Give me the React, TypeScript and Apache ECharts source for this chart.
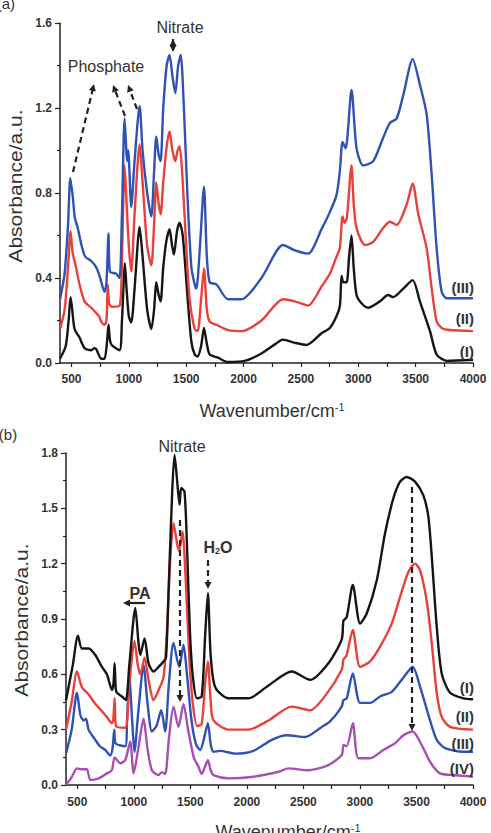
import React, { useEffect, useRef } from "react";
import * as echarts from "echarts";

// ---------- data (wavenumber cm-1, absorbance a.u.) ----------
const xLabelValues = [500, 1000, 1500, 2000, 2500, 3000, 3500, 4000];
const xTickValues = [500, 750, 1000, 1250, 1500, 1750, 2000, 2250, 2500, 2750, 3000, 3250, 3500, 3750, 4000];

const panelA_I: [number, number][] = [
  [400, 0.02], [450, 0.08], [475, 0.2], [492, 0.31], [505, 0.26], [527, 0.16], [570, 0.12], [614, 0.07], [672, 0.06], [700, 0.07], [716, 0.065], [760, 0.02], [788, 0.02], [810, 0.1], [823, 0.18], [835, 0.11], [850, 0.085], [919, 0.06], [940, 0.2], [955, 0.38], [965, 0.47], [980, 0.35], [1000, 0.22], [1021, 0.19], [1050, 0.35], [1094, 0.64], [1120, 0.5], [1160, 0.25], [1196, 0.16], [1220, 0.25], [1239, 0.38], [1260, 0.32], [1277, 0.29], [1300, 0.45], [1326, 0.57], [1355, 0.63], [1375, 0.56], [1393, 0.51], [1420, 0.62], [1443, 0.66], [1470, 0.6], [1513, 0.3], [1545, 0.1], [1574, 0.04], [1600, 0.03], [1630, 0.08], [1655, 0.165], [1680, 0.09], [1705, 0.04], [1777, 0.025], [1862, 0.005], [2010, 0.01], [2156, 0.045], [2280, 0.09], [2342, 0.11], [2447, 0.095], [2549, 0.085], [2680, 0.14], [2752, 0.165], [2810, 0.22], [2840, 0.27], [2854, 0.41], [2870, 0.38], [2898, 0.38], [2920, 0.5], [2941, 0.6], [2960, 0.45], [2985, 0.32], [3030, 0.28], [3086, 0.26], [3188, 0.29], [3261, 0.32], [3304, 0.31], [3392, 0.35], [3474, 0.39], [3537, 0.29], [3625, 0.15], [3683, 0.04], [3770, 0.01], [4000, 0.015],
];
const panelA_II: [number, number][] = [
  [400, 0.16], [440, 0.25], [470, 0.45], [492, 0.62], [510, 0.52], [540, 0.45], [570, 0.37], [614, 0.29], [672, 0.26], [716, 0.235], [740, 0.22], [760, 0.195], [788, 0.18], [805, 0.2], [817, 0.37], [828, 0.28], [850, 0.265], [920, 0.27], [940, 0.5], [963, 0.93], [985, 0.7], [1000, 0.55], [1021, 0.43], [1050, 0.7], [1094, 1.03], [1120, 0.85], [1160, 0.55], [1196, 0.46], [1220, 0.65], [1239, 0.85], [1260, 0.75], [1277, 0.7], [1300, 0.85], [1330, 1.02], [1355, 1.09], [1380, 1.0], [1405, 0.95], [1425, 1.0], [1443, 1.02], [1470, 0.85], [1500, 0.55], [1530, 0.3], [1574, 0.16], [1600, 0.15], [1630, 0.3], [1655, 0.445], [1680, 0.25], [1705, 0.195], [1763, 0.18], [1865, 0.155], [1981, 0.15], [2156, 0.2], [2344, 0.3], [2447, 0.29], [2563, 0.27], [2680, 0.36], [2752, 0.42], [2810, 0.5], [2839, 0.54], [2863, 0.69], [2880, 0.66], [2900, 0.68], [2941, 0.93], [2960, 0.75], [2985, 0.635], [3058, 0.555], [3130, 0.57], [3217, 0.635], [3276, 0.665], [3334, 0.65], [3421, 0.745], [3474, 0.845], [3523, 0.7], [3596, 0.54], [3640, 0.35], [3683, 0.195], [3727, 0.165], [3800, 0.155], [4000, 0.15],
];
const panelA_III: [number, number][] = [
  [400, 0.3], [440, 0.42], [470, 0.65], [490, 0.87], [512, 0.78], [530, 0.68], [553, 0.64], [585, 0.56], [620, 0.5], [672, 0.48], [716, 0.45], [745, 0.41], [788, 0.335], [805, 0.38], [823, 0.61], [835, 0.43], [890, 0.42], [919, 0.4], [940, 0.7], [963, 1.15], [986, 0.95], [995, 1.0], [1021, 0.735], [1050, 0.95], [1094, 1.21], [1120, 1.0], [1160, 0.8], [1196, 0.69], [1220, 0.9], [1239, 1.065], [1260, 0.98], [1277, 0.95], [1300, 1.2], [1330, 1.4], [1355, 1.45], [1380, 1.35], [1405, 1.27], [1430, 1.4], [1452, 1.45], [1480, 1.2], [1510, 0.8], [1545, 0.45], [1574, 0.37], [1589, 0.35], [1620, 0.55], [1655, 0.83], [1680, 0.5], [1705, 0.38], [1763, 0.37], [1865, 0.3], [1981, 0.3], [2156, 0.4], [2344, 0.555], [2447, 0.53], [2563, 0.515], [2680, 0.63], [2752, 0.71], [2810, 0.79], [2839, 0.9], [2863, 1.04], [2890, 1.01], [2941, 1.285], [2985, 1.01], [3043, 0.93], [3130, 0.95], [3217, 1.06], [3276, 1.13], [3334, 1.15], [3392, 1.26], [3474, 1.43], [3537, 1.31], [3596, 1.17], [3640, 0.885], [3683, 0.54], [3727, 0.335], [3771, 0.305], [4000, 0.305],
];

const panelB_I: [number, number][] = [
  [400, 0.46], [460, 0.65], [506, 0.81], [541, 0.74], [600, 0.74], [659, 0.705], [718, 0.64], [762, 0.6], [806, 0.515], [820, 0.55], [830, 0.66], [840, 0.52], [851, 0.5], [895, 0.48], [930, 0.46], [960, 0.65], [1013, 0.96], [1040, 0.78], [1057, 0.705], [1095, 0.795], [1130, 0.66], [1174, 0.615], [1219, 0.64], [1263, 0.67], [1285, 0.69], [1310, 1.1], [1340, 1.6], [1360, 1.79], [1390, 1.6], [1405, 1.52], [1419, 1.61], [1448, 1.59], [1470, 1.3], [1495, 0.85], [1520, 0.6], [1558, 0.47], [1600, 0.48], [1630, 0.8], [1655, 1.04], [1680, 0.7], [1720, 0.53], [1837, 0.47], [2014, 0.47], [2191, 0.54], [2397, 0.615], [2559, 0.57], [2721, 0.66], [2839, 0.79], [2854, 0.89], [2883, 0.91], [2937, 1.085], [3001, 0.875], [3060, 0.93], [3149, 1.11], [3222, 1.365], [3296, 1.555], [3355, 1.645], [3414, 1.67], [3487, 1.645], [3561, 1.57], [3605, 1.455], [3635, 1.24], [3679, 0.86], [3723, 0.605], [3797, 0.5], [3914, 0.47], [4000, 0.465],
];
const panelB_II: [number, number][] = [
  [400, 0.3], [450, 0.45], [497, 0.615], [541, 0.53], [600, 0.49], [659, 0.44], [718, 0.4], [760, 0.37], [806, 0.335], [818, 0.35], [830, 0.47], [842, 0.32], [924, 0.31], [960, 0.55], [1006, 0.78], [1035, 0.65], [1057, 0.6], [1095, 0.69], [1130, 0.57], [1174, 0.46], [1219, 0.515], [1263, 0.585], [1290, 0.8], [1320, 1.2], [1351, 1.42], [1385, 1.3], [1401, 1.27], [1430, 1.375], [1460, 1.1], [1490, 0.7], [1520, 0.45], [1560, 0.32], [1600, 0.33], [1630, 0.55], [1655, 0.67], [1680, 0.45], [1705, 0.35], [1837, 0.3], [2014, 0.3], [2191, 0.35], [2397, 0.425], [2559, 0.405], [2700, 0.49], [2839, 0.625], [2854, 0.68], [2880, 0.7], [2937, 0.84], [3001, 0.64], [3090, 0.67], [3178, 0.75], [3281, 0.875], [3355, 1.02], [3428, 1.155], [3487, 1.2], [3531, 1.165], [3590, 1.0], [3635, 0.77], [3679, 0.5], [3723, 0.37], [3797, 0.315], [4000, 0.3],
];
const panelB_III: [number, number][] = [
  [400, 0.17], [450, 0.3], [497, 0.5], [527, 0.38], [555, 0.35], [577, 0.36], [600, 0.3], [659, 0.245], [700, 0.21], [747, 0.19], [791, 0.16], [812, 0.2], [827, 0.3], [840, 0.225], [924, 0.21], [940, 0.35], [960, 0.585], [985, 0.35], [1005, 0.18], [1040, 0.4], [1086, 0.65], [1120, 0.45], [1160, 0.29], [1200, 0.32], [1242, 0.405], [1277, 0.29], [1310, 0.55], [1351, 0.77], [1401, 0.64], [1439, 0.76], [1470, 0.6], [1510, 0.35], [1550, 0.22], [1587, 0.19], [1620, 0.25], [1655, 0.335], [1680, 0.22], [1705, 0.18], [1764, 0.185], [1896, 0.17], [2058, 0.185], [2220, 0.245], [2353, 0.27], [2515, 0.26], [2662, 0.315], [2736, 0.345], [2839, 0.425], [2854, 0.46], [2883, 0.47], [2937, 0.605], [3001, 0.445], [3090, 0.445], [3178, 0.48], [3281, 0.505], [3369, 0.57], [3466, 0.64], [3531, 0.535], [3620, 0.35], [3679, 0.245], [3753, 0.2], [3914, 0.18], [4000, 0.18],
];
const panelB_IV: [number, number][] = [
  [400, 0.0], [453, 0.045], [497, 0.09], [540, 0.085], [585, 0.085], [615, 0.027], [688, 0.036], [762, 0.063], [806, 0.08], [830, 0.15], [880, 0.118], [924, 0.135], [968, 0.235], [998, 0.063], [1040, 0.2], [1086, 0.36], [1120, 0.2], [1160, 0.08], [1219, 0.054], [1248, 0.07], [1277, 0.06], [1310, 0.25], [1351, 0.425], [1395, 0.315], [1439, 0.44], [1480, 0.3], [1530, 0.15], [1571, 0.1], [1600, 0.06], [1630, 0.1], [1655, 0.135], [1680, 0.08], [1705, 0.054], [1837, 0.036], [2058, 0.045], [2279, 0.072], [2367, 0.09], [2544, 0.08], [2721, 0.108], [2839, 0.163], [2854, 0.217], [2883, 0.21], [2937, 0.335], [2986, 0.145], [3090, 0.145], [3207, 0.19], [3310, 0.226], [3384, 0.27], [3466, 0.29], [3546, 0.217], [3620, 0.126], [3708, 0.063], [3826, 0.054], [4000, 0.045],
];

const seriesLabelsA = ["(III)", "(II)", "(I)"];
const seriesLabelsB = ["(I)", "(II)", "(III)", "(IV)"];

// ---------- styling ----------
const FONT = '"Liberation Sans", Arial, sans-serif';
const C_BLACK = "#151515";
const C_RED = "#e8403a";
const C_BLUE = "#2f52b4";
const C_PURPLE = "#a84fb6";
const TXT = "#333";

function head(x: number, y: number, ang: number, size = 7, half = 3.5) {
  const bx = x - Math.cos(ang) * size;
  const by = y - Math.sin(ang) * size;
  const px = -Math.sin(ang) * half;
  const py = Math.cos(ang) * half;
  return {
    type: "polygon",
    shape: { points: [[x, y], [bx + px, by + py], [bx - px, by - py]] },
    style: { fill: "#222" },
    z: 100,
  };
}
function arrow(x1: number, y1: number, x2: number, y2: number, dashed: boolean, both = false) {
  const ang = Math.atan2(y2 - y1, x2 - x1);
  const els: any[] = [
    {
      type: "line",
      shape: { x1, y1, x2: x2 - Math.cos(ang) * 4, y2: y2 - Math.sin(ang) * 4 },
      style: { stroke: "#222", lineWidth: 2.2, lineDash: dashed ? [6, 4] : null },
      z: 100,
    },
    head(x2, y2, ang),
  ];
  if (both) els.push(head(x1, y1, ang + Math.PI));
  return els;
}
function txt(text: string, x: number, y: number, size: number, opts: any = {}) {
  return {
    type: "text",
    x,
    y,
    rotation: opts.rotation || 0,
    scaleX: opts.scaleX || 1,
    z: 110,
    style: {
      text,
      fill: opts.fill || TXT,
      font: `${opts.bold ? "bold " : ""}${size}px ${FONT}`,
      align: opts.align || "center",
      verticalAlign: "middle",
      rich: opts.rich,
    },
  };
}

function makeXAxis(gridIndex: number, margin: number) {
  return {
    type: "value",
    gridIndex,
    min: 400,
    max: 4000,
    axisLine: { show: true, onZero: false, lineStyle: { color: "#222", width: 1.5 } },
    axisTick: { show: true, length: 4, customValues: xTickValues, lineStyle: { color: "#222", width: 1.2 } },
    axisLabel: {
      customValues: xLabelValues,
      color: TXT,
      fontWeight: "bold",
      fontSize: 12,
      fontFamily: FONT,
      margin,
      formatter: (v: number) => String(Math.round(v)),
    },
    splitLine: { show: false },
  };
}
function makeYAxis(gridIndex: number, max: number, interval: number) {
  return {
    type: "value",
    gridIndex,
    min: 0,
    max,
    interval,
    axisLine: { show: true, lineStyle: { color: "#222", width: 1.5 } },
    axisTick: { show: true, length: 5, lineStyle: { color: "#222", width: 1.2 } },
    minorTick: { show: true, splitNumber: 2, length: 3, lineStyle: { color: "#222", width: 1.2 } },
    axisLabel: { color: TXT, fontWeight: "bold", fontSize: 12, fontFamily: FONT, margin: 8, formatter: (v: number) => v.toFixed(1) },
    splitLine: { show: false },
  };
}
function line(data: [number, number][], color: string, idx: number) {
  return {
    type: "line",
    xAxisIndex: idx,
    yAxisIndex: idx,
    data,
    showSymbol: false,
    symbol: "none",
    smooth: 0.25,
    lineStyle: { color, width: 2.4 },
    silent: true,
  };
}

export default function App() {
  const ref = useRef<HTMLDivElement>(null);
  useEffect(() => {
    if (!ref.current) return;
    const chart = echarts.init(ref.current, undefined, { renderer: "svg" });
    const supRich = { sup: { fontSize: 11, verticalAlign: "top", fill: TXT, fontFamily: FONT, padding: [0, 0, 8, 0] } };
    const graphic: any[] = [
      // panel (a)
      txt("(a)", 15, 3, 15, { align: "right" }),
      txt("Nitrate", 180, 27, 16),
      ...arrow(173, 39, 173, 52, false, true),
      txt("Phosphate", 106, 66, 16),
      ...arrow(73, 172, 94, 84, true),
      ...arrow(125, 116, 113, 85, true),
      ...arrow(137, 109, 128, 85, true),
      txt(seriesLabelsA[0], 474, 287, 15, { bold: true, align: "right" }),
      txt(seriesLabelsA[1], 474, 318, 15, { bold: true, align: "right" }),
      txt(seriesLabelsA[2], 474, 351, 15, { bold: true, align: "right" }),
      txt("Absorbance/a.u.", 16, 186, 18, { rotation: Math.PI / 2, scaleX: 1.17 }),
      txt("Wavenumber/cm{sup|-1}", 272, 411, 18, { rich: supRich }),
      // panel (b)
      txt("(b)", 8, 434, 15, { align: "center" }),
      txt("Nitrate", 182, 446, 16),
      ...arrow(180, 520, 180, 702, true),
      txt("H{sub|2}O", 218, 547, 16, { bold: true, rich: { sub: { fontSize: 9, fontWeight: "bold", verticalAlign: "bottom", fill: TXT, fontFamily: FONT, padding: [6, 0, 0, 0] } } }),
      ...arrow(208, 560, 208, 589, true),
      txt("PA", 140, 593, 16, { bold: true }),
      ...arrow(145, 603, 123, 603, false),
      ...arrow(412, 487, 412, 731, true),
      txt(seriesLabelsB[0], 474, 687, 15, { bold: true, align: "right" }),
      txt(seriesLabelsB[1], 474, 716, 15, { bold: true, align: "right" }),
      txt(seriesLabelsB[2], 474, 743, 15, { bold: true, align: "right" }),
      txt(seriesLabelsB[3], 474, 768, 15, { bold: true, align: "right" }),
      txt("Absorbance/a.u.", 22, 620, 18, { rotation: Math.PI / 2, scaleX: 1.17 }),
      txt("Wavenumber/cm{sup|-1}", 288, 832, 18, { rich: supRich }),
    ];
    chart.setOption({
      animation: false,
      backgroundColor: "#fff",
      grid: [
        { left: 60, top: 23, width: 413, height: 340 },
        { left: 66, top: 453, width: 407, height: 332 },
      ],
      xAxis: [makeXAxis(0, 10), makeXAxis(1, 11)],
      yAxis: [makeYAxis(0, 1.6, 0.4), makeYAxis(1, 1.8, 0.3)],
      series: [
        line(panelA_I, C_BLACK, 0),
        line(panelA_II, C_RED, 0),
        line(panelA_III, C_BLUE, 0),
        line(panelB_IV, C_PURPLE, 1),
        line(panelB_III, C_BLUE, 1),
        line(panelB_II, C_RED, 1),
        line(panelB_I, C_BLACK, 1),
      ],
      graphic,
    });
    return () => chart.dispose();
  }, []);
  return (
    <div
      ref={ref}
      style={{ position: "fixed", left: 0, top: 0, width: 491, height: 833, background: "#fff" }}
    />
  );
}
